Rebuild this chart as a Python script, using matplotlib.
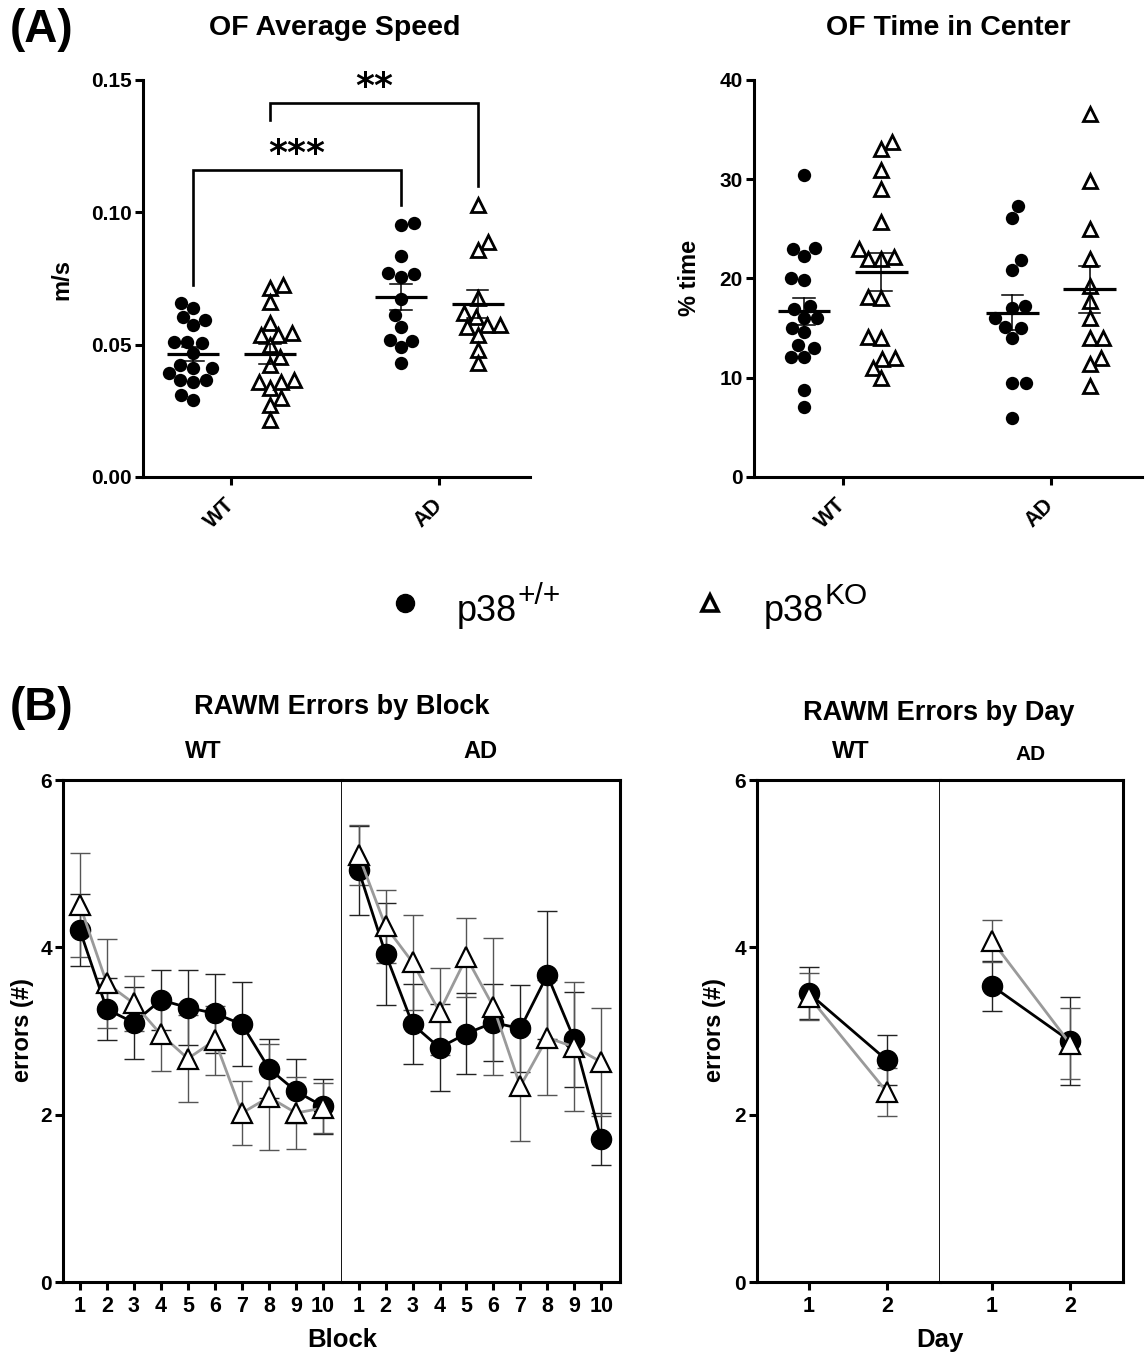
import numpy as np
import matplotlib
matplotlib.use('Agg')
import matplotlib.pyplot as plt

plt.rcParams['font.family'] = ['Liberation Sans', 'DejaVu Sans']

# ---------------- data ----------------
groups = ['WT', 'AD']
legend_base = ['p38', 'p38']
legend_sup = ['+/+', 'KO']

# OF average speed (m/s)
speed_wt_p38 = [0.0656, 0.0637, 0.0606, 0.0593, 0.0574, 0.0511, 0.0505, 0.0511, 0.0467,
                0.0423, 0.0411, 0.0411, 0.0392, 0.0366, 0.0366, 0.0360, 0.0310, 0.0291]
speed_wt_ko = [0.0725, 0.0713, 0.0662, 0.0581, 0.0537, 0.0537, 0.0543, 0.0499, 0.0455,
               0.0423, 0.0366, 0.0360, 0.0335, 0.0360, 0.0297, 0.0272, 0.0215]
speed_ad_p38 = [0.0961, 0.0952, 0.0835, 0.0772, 0.0767, 0.0757, 0.0671, 0.0612, 0.0568,
                0.0518, 0.0515, 0.0490, 0.0430]
speed_ad_ko = [0.1028, 0.0889, 0.0858, 0.0675, 0.0618, 0.0606, 0.0574, 0.0568, 0.0574,
               0.0537, 0.0480, 0.0430]

# OF time in center (%)
center_wt_p38 = [30.4, 23.1, 23.0, 22.3, 20.0, 19.8, 17.2, 16.9, 16.0, 16.0, 15.0, 14.6,
                 13.3, 13.0, 12.1, 12.1, 8.8, 7.1]
center_wt_ko = [33.8, 33.0, 30.9, 29.0, 25.7, 23.0, 22.0, 22.0, 22.2, 18.0, 18.1, 14.0,
                14.1, 11.9, 11.0, 12.0, 10.0]
center_ad_p38 = [27.3, 26.1, 21.9, 20.9, 17.2, 17.0, 16.0, 15.1, 15.0, 14.0, 9.5, 9.5, 5.9]
center_ad_ko = [36.6, 29.8, 25.0, 22.0, 19.2, 17.7, 16.0, 14.0, 14.0, 12.0, 11.4, 9.2]

# RAWM errors by block
blocks = [1, 2, 3, 4, 5, 6, 7, 8, 9, 10]
wt_p38_block = [4.21, 3.26, 3.10, 3.37, 3.28, 3.21, 3.08, 2.55, 2.28, 2.10]
wt_p38_block_sem = [0.43, 0.37, 0.43, 0.36, 0.45, 0.47, 0.50, 0.35, 0.38, 0.33]
wt_ko_block = [4.51, 3.57, 3.33, 2.96, 2.67, 2.89, 2.02, 2.21, 2.02, 2.08]
wt_ko_block_sem = [0.62, 0.53, 0.33, 0.44, 0.52, 0.41, 0.38, 0.63, 0.43, 0.30]
ad_p38_block = [4.92, 3.92, 3.08, 2.80, 2.97, 3.10, 3.03, 3.67, 2.90, 1.71]
ad_p38_block_sem = [0.53, 0.61, 0.48, 0.52, 0.48, 0.46, 0.52, 0.77, 0.57, 0.31]
ad_ko_block = [5.10, 4.25, 3.82, 3.23, 3.88, 3.29, 2.34, 2.92, 2.81, 2.63]
ad_ko_block_sem = [0.36, 0.44, 0.57, 0.52, 0.47, 0.82, 0.65, 0.69, 0.77, 0.64]

# RAWM errors by day
days = [1, 2]
wt_p38_day = [3.45, 2.65]
wt_p38_day_sem = [0.31, 0.30]
wt_ko_day = [3.41, 2.27]
wt_ko_day_sem = [0.28, 0.29]
ad_p38_day = [3.54, 2.88]
ad_p38_day_sem = [0.30, 0.53]
ad_ko_day = [4.08, 2.85]
ad_ko_day_sem = [0.25, 0.42]

# ---------------- layout ----------------
W, H = 1148, 1354
fig = plt.figure(figsize=(W / 100, H / 100), dpi=100)


def rect(x0, x1, ytop, ybot):
    return [x0 / W, 1 - ybot / H, (x1 - x0) / W, (ybot - ytop) / H]


def fx(x):
    return x / W


def fy(y):
    return 1 - y / H


SPW = 2.2
TICKFS = 15
BOLD = 'bold'

# group/genotype x positions
group_pos = [1.5, 4.2]
geno_off = [-0.5, 0.5]


def swarm(ax, values, diam_px):
    vals = np.asarray(values, float)
    ys = np.array([ax.transData.transform((0, v))[1] for v in vals])
    ppu = ax.transData.transform((1, 0))[0] - ax.transData.transform((0, 0))[0]
    order = np.argsort(ys)
    placed = []
    offs = np.zeros(len(vals))
    for k, i in enumerate(order):
        y = ys[i]
        cands = [0.0]
        for xj, yj in placed:
            dy = abs(y - yj)
            if dy < diam_px:
                dx = np.sqrt(diam_px ** 2 - dy ** 2)
                cands += [xj - dx, xj + dx]
        sgn = 1 if k % 2 else -1
        cands = sorted(set(cands), key=lambda c: (round(abs(c), 6), sgn * c))
        for c in cands:
            if all((c - xj) ** 2 + (y - yj) ** 2 >= diam_px ** 2 - 1e-6 for xj, yj in placed):
                offs[i] = c
                break
        placed.append((offs[i], y))
    return offs / ppu


def scatter_panel(ax, data, ylim, yticks, yticklabels):
    ax.set_xlim(0.35, 5.38)
    ax.set_ylim(*ylim)
    for sp in ['top', 'right']:
        ax.spines[sp].set_visible(False)
    for sp in ['left', 'bottom']:
        ax.spines[sp].set_linewidth(SPW)
    ax.set_yticks(yticks)
    ax.set_yticklabels(yticklabels, fontsize=TICKFS, fontweight=BOLD)
    ax.set_xticks(group_pos)
    ax.set_xticklabels(groups, fontsize=TICKFS + 0.5, fontweight=BOLD, rotation=45,
                       ha='right', va='center', rotation_mode='anchor')
    ax.tick_params(axis='both', length=6, width=SPW, direction='out')
    ax.tick_params(axis='x', pad=12)
    ax.tick_params(axis='y', pad=2)
    for gi, gp in enumerate(group_pos):
        for k, off in enumerate(geno_off):
            vals = np.asarray(data[gi][k], float)
            xc = gp + off
            xs = xc + swarm(ax, vals, 13.2)
            if k == 0:
                ax.plot(xs, vals, 'o', ms=9.6, mfc='black', mec='black', mew=0, ls='none',
                        zorder=3, clip_on=False)
            else:
                ax.plot(xs, vals, '^', ms=10.5, mfc='white', mec='black', mew=2.0, ls='none',
                        zorder=3, clip_on=False)
            m = vals.mean()
            sem = vals.std(ddof=1) / np.sqrt(len(vals))
            ax.plot([xc - 0.34, xc + 0.34], [m, m], color='black', lw=2.3, zorder=4,
                    solid_capstyle='butt')
            ax.plot([xc, xc], [m - sem, m + sem], color='black', lw=1.1, zorder=4)
            for e in (m - sem, m + sem):
                ax.plot([xc - 0.14, xc + 0.14], [e, e], color='black', lw=1.1, zorder=4)


# ---------------- (A) top-left ----------------
axA1 = fig.add_axes(rect(143, 530, 80, 477))
scatter_panel(axA1, [[speed_wt_p38, speed_wt_ko], [speed_ad_p38, speed_ad_ko]],
              (0, 0.15), [0, 0.05, 0.10, 0.15], ['0.00', '0.05', '0.10', '0.15'])

# significance brackets
x_wt_p38 = group_pos[0] + geno_off[0]
x_wt_ko = group_pos[0] + geno_off[1]
x_ad_p38 = group_pos[1] + geno_off[0]
x_ad_ko = group_pos[1] + geno_off[1]
br_kw = dict(color='black', lw=1.9, solid_joinstyle='miter', clip_on=False, zorder=5)
axA1.plot([x_wt_p38, x_wt_p38, x_ad_p38, x_ad_p38], [0.0725, 0.116, 0.116, 0.1028], **br_kw)
axA1.plot([x_wt_ko, x_wt_ko, x_ad_ko, x_ad_ko], [0.135, 0.1413, 0.1413, 0.110], **br_kw)
axA1.text((x_wt_p38 + x_ad_p38) / 2, 0.1222, '***', ha='center', va='center',
          fontsize=26, fontweight='bold', family='DejaVu Sans')
axA1.text((x_wt_ko + x_ad_ko) / 2, 0.1472, '**', ha='center', va='center',
          fontsize=26, fontweight='bold', family='DejaVu Sans')

# ---------------- (A) top-right ----------------
axA2 = fig.add_axes(rect(754, 1142, 80, 477))
scatter_panel(axA2, [[center_wt_p38, center_wt_ko], [center_ad_p38, center_ad_ko]],
              (0, 40), [0, 10, 20, 30, 40], ['0', '10', '20', '30', '40'])

fig.text(fx(335), fy(28), 'OF Average Speed', ha='center', va='center', fontsize=20.5,
         fontweight=BOLD)
fig.text(fx(948), fy(28), 'OF Time in Center', ha='center', va='center', fontsize=20.5,
         fontweight=BOLD)
fig.text(fx(62), fy(280), 'm/s', rotation=90, ha='center', va='center', fontsize=17,
         fontweight=BOLD)
fig.text(fx(690), fy(278), '% time', rotation=90, ha='center', va='center', fontsize=17,
         fontweight=BOLD)
fig.text(fx(10), fy(30), '(A)', ha='left', va='center', fontsize=33, fontweight=BOLD)
fig.text(fx(10), fy(708), '(B)', ha='left', va='center', fontsize=33, fontweight=BOLD)

# legend
fig.lines.append(plt.Line2D([fx(405)], [fy(603)], marker='o', ms=13, mfc='black', mec='black',
                            ls='none', transform=fig.transFigure))
fig.lines.append(plt.Line2D([fx(710)], [fy(603)], marker='^', ms=11, mfc='white', mec='black',
                            mew=2.6, ls='none', transform=fig.transFigure))
renderer = fig.canvas.get_renderer()
for xs0, base, sup in zip([457, 764], legend_base, legend_sup):
    t = fig.text(fx(xs0), fy(621), base, ha='left', va='baseline', fontsize=26)
    bb = t.get_window_extent(renderer)
    fig.text(bb.x1 / W, fy(604), sup, ha='left', va='baseline', fontsize=21.5)

# ---------------- (B) line panels ----------------
GRAY = '#9a9a9a'


def line_facet(ax, x, m1, s1, m2, s2, xlim, show_left, thick_right, no_left):
    ax.set_xlim(*xlim)
    ax.set_ylim(0, 6)
    for sp in ax.spines.values():
        sp.set_linewidth(SPW)
    if no_left:
        ax.spines['left'].set_visible(False)
    if not thick_right:
        ax.spines['right'].set_linewidth(1.3)
    ax.set_xticks(x)
    ax.set_xticklabels([str(v) for v in x], fontsize=TICKFS + 0.5, fontweight=BOLD)
    ax.tick_params(axis='x', length=6, width=SPW, pad=4)
    if show_left:
        ax.set_yticks([0, 2, 4, 6])
        ax.set_yticklabels(['0', '2', '4', '6'], fontsize=TICKFS, fontweight=BOLD)
        ax.tick_params(axis='y', length=6, width=SPW, pad=2)
    else:
        ax.set_yticks([])
    ax.errorbar(x, m1, yerr=s1, fmt='none', ecolor='#222222', elinewidth=1.0, capsize=7,
                capthick=1.0, zorder=2)
    ax.errorbar(x, m2, yerr=s2, fmt='none', ecolor='#555555', elinewidth=1.0, capsize=7,
                capthick=1.0, zorder=2)
    ax.plot(x, m1, '-o', color='black', lw=2.0, ms=14.5, mfc='black', mec='black', zorder=3,
            clip_on=False)
    ax.plot(x, m2, '-', color=GRAY, lw=2.0, zorder=4, clip_on=False)
    ax.plot(x, m2, '^', ls='none', ms=14.5, mfc='white', mec='black', mew=1.6, zorder=5,
            clip_on=False)


bx = (0.38, 10.7)
axB1 = fig.add_axes(rect(63, 342, 780, 1282))
line_facet(axB1, blocks, wt_p38_block, wt_p38_block_sem, wt_ko_block, wt_ko_block_sem,
           bx, True, False, False)
axB2 = fig.add_axes(rect(342, 620, 780, 1282))
line_facet(axB2, blocks, ad_p38_block, ad_p38_block_sem, ad_ko_block, ad_ko_block_sem,
           bx, False, True, True)

dx = (0.333, 2.68)
axB3 = fig.add_axes(rect(757, 940, 780, 1282))
line_facet(axB3, days, wt_p38_day, wt_p38_day_sem, wt_ko_day, wt_ko_day_sem,
           dx, True, False, False)
axB4 = fig.add_axes(rect(940, 1123, 780, 1282))
line_facet(axB4, days, ad_p38_day, ad_p38_day_sem, ad_ko_day, ad_ko_day_sem,
           dx, False, True, True)

fig.text(fx(342), fy(707), 'RAWM Errors by Block', ha='center', va='center', fontsize=19.5,
         fontweight=BOLD)
fig.text(fx(203), fy(752), 'WT', ha='center', va='center', fontsize=17, fontweight=BOLD)
fig.text(fx(480), fy(752), 'AD', ha='center', va='center', fontsize=17, fontweight=BOLD)
fig.text(fx(939), fy(713), 'RAWM Errors by Day', ha='center', va='center', fontsize=19.5,
         fontweight=BOLD)
fig.text(fx(851), fy(751), 'WT', ha='center', va='center', fontsize=17.5, fontweight=BOLD)
fig.text(fx(1031), fy(755), 'AD', ha='center', va='center', fontsize=15, fontweight=BOLD)
fig.text(fx(22), fy(1030), 'errors (#)', rotation=90, ha='center', va='center', fontsize=17,
         fontweight=BOLD)
fig.text(fx(714), fy(1030), 'errors (#)', rotation=90, ha='center', va='center', fontsize=17,
         fontweight=BOLD)
fig.text(fx(342), fy(1340), 'Block', ha='center', va='center', fontsize=18.5, fontweight=BOLD)
fig.text(fx(940), fy(1340), 'Day', ha='center', va='center', fontsize=18.5, fontweight=BOLD)

fig.savefig('out.png', dpi=100)
